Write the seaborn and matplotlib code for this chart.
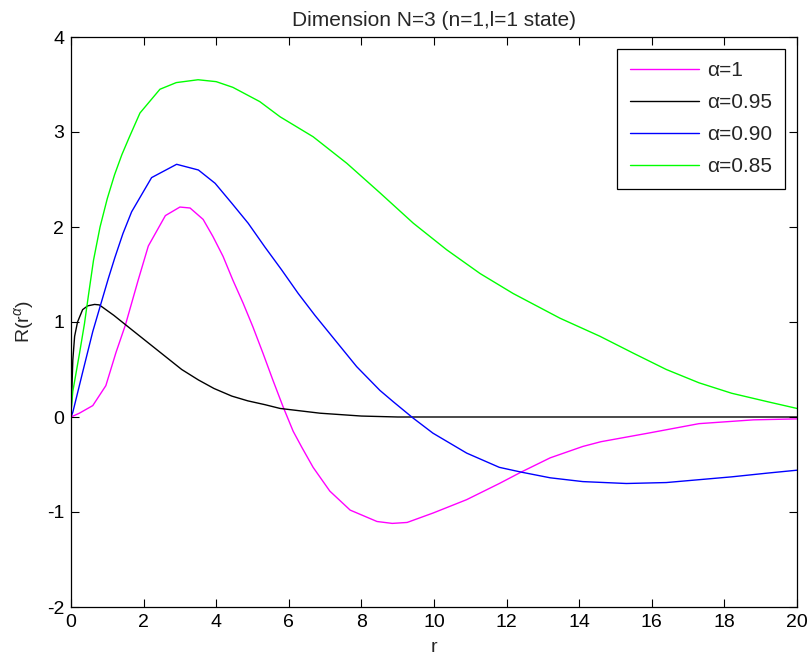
import pandas as pd
import seaborn as sns
import matplotlib.pyplot as plt

# curves (r, R values)
r_a100 = [0, 0.23, 0.6, 0.96, 1.24, 1.5, 1.85, 2.13, 2.6, 3.0, 3.28, 3.64, 3.91, 4.19, 4.46,
          4.74, 5.01, 5.29, 5.56, 5.84, 6.12, 6.36, 6.67, 7.13, 7.69, 8.43, 8.85, 9.26, 9.98,
          10.9, 11.8, 12.4, 13.2, 14.1, 14.6, 15.9, 17.3, 18.8, 20]
R_a100 = [0, 0.04, 0.12, 0.33, 0.68, 0.97, 1.44, 1.80, 2.12, 2.21, 2.20, 2.08, 1.90, 1.69, 1.44,
          1.20, 0.95, 0.67, 0.39, 0.11, -0.15, -0.32, -0.53, -0.78, -0.98, -1.10, -1.12, -1.11, -1.01,
          -0.87, -0.70, -0.58, -0.43, -0.31, -0.26, -0.17, -0.07, -0.03, -0.02]

r_a095 = [0, 0.05, 0.1, 0.18, 0.32, 0.46, 0.65, 0.78, 1.18, 1.67, 2.13, 2.59, 3.05, 3.51, 3.94,
          4.43, 4.87, 5.34, 5.76, 6.86, 8.0, 9.0, 10, 12, 14, 16, 18, 20]
R_a095 = [0, 0.6, 0.85, 1.0, 1.13, 1.17, 1.185, 1.18, 1.07, 0.92, 0.78, 0.64, 0.50, 0.39, 0.30,
          0.22, 0.17, 0.13, 0.09, 0.04, 0.01, 0.0, 0, 0, 0, 0, 0, 0]

r_a090 = [0, 0.05, 0.32, 0.6, 0.83, 1.03, 1.21, 1.43, 1.67, 2.22, 2.91, 3.51, 3.97, 4.43, 4.88,
          5.34, 5.80, 6.26, 6.72, 7.87, 8.51, 8.88, 9.42, 9.97, 10.9, 11.8, 12.4, 13.2, 14.1,
          15.3, 16.4, 17.3, 18.2, 19.2, 20]
R_a090 = [0, 0.05, 0.47, 0.9, 1.2, 1.46, 1.68, 1.93, 2.16, 2.52, 2.66, 2.60, 2.46, 2.25, 2.04,
          1.79, 1.55, 1.30, 1.07, 0.53, 0.28, 0.16, -0.01, -0.17, -0.38, -0.53, -0.58, -0.64, -0.68,
          -0.70, -0.69, -0.66, -0.63, -0.59, -0.56]

r_a085 = [0, 0.05, 0.23, 0.37, 0.48, 0.62, 0.8, 1.0, 1.2, 1.4, 1.6, 1.9, 2.45, 2.9, 3.5, 4.0,
          4.46, 5.2, 5.76, 6.67, 7.6, 8.51, 9.43, 10.35, 11.27, 12.18, 13.47, 14.57, 15.5, 16.4,
          17.3, 18.2, 19.2, 20]
R_a085 = [0.05, 0.27, 0.66, 0.98, 1.28, 1.65, 2.0, 2.3, 2.55, 2.76, 2.94, 3.2, 3.45, 3.52, 3.55, 3.53,
          3.47, 3.32, 3.16, 2.95, 2.67, 2.36, 2.04, 1.76, 1.51, 1.30, 1.04, 0.85, 0.67, 0.50,
          0.36, 0.25, 0.16, 0.09]

labels = ['α=1', 'α=0.95', 'α=0.90', 'α=0.85']
colors = ['#ff00ff', '#000000', '#0000ff', '#00ff00']

# long table for seaborn
frames = []
for lab, rr, RR in zip(labels, [r_a100, r_a095, r_a090, r_a085], [R_a100, R_a095, R_a090, R_a085]):
    frames.append(pd.DataFrame({'r': rr, 'R': RR, 'alpha': lab}))
df = pd.concat(frames, ignore_index=True)

sns.set_style('ticks')
plt.rcParams['font.family'] = ['Liberation Sans', 'DejaVu Sans']
plt.rcParams['axes.unicode_minus'] = False
plt.rcParams['mathtext.fontset'] = 'custom'
plt.rcParams['mathtext.rm'] = 'Liberation Sans'
plt.rcParams['mathtext.it'] = 'Liberation Sans:italic'

fig = plt.figure(figsize=(8.09, 6.7), dpi=100)
ax = fig.add_axes([71 / 809, 1 - 607 / 670, 726 / 809, 570 / 670])

sns.lineplot(data=df, x='r', y='R', hue='alpha', hue_order=labels,
             palette=dict(zip(labels, colors)), sort=False, estimator=None,
             linewidth=1.0, ax=ax)

ax.set_xlim(0, 20)
ax.set_ylim(-2, 4)
ax.set_xticks(range(0, 21, 2))
ax.set_yticks(range(-2, 5))
ax.tick_params(direction='in', length=5.5, width=0.8, top=True, right=True,
               labelsize=14, colors='black', pad=5)
for s in ax.spines.values():
    s.set_visible(True)
    s.set_color('black')
    s.set_linewidth(0.9)

ax.set_title('Dimension N=3 (n=1,l=1 state)', fontsize=15, pad=8)
ax.set_xlabel('r', fontsize=14, labelpad=6)
ax.set_ylabel('R(r$^{\\alpha}$)', fontsize=14, labelpad=8)

sns.move_legend(ax, 'upper right', bbox_to_anchor=(0.983, 0.979), borderaxespad=0,
                title=None, frameon=True, fancybox=False, edgecolor='black', framealpha=1,
                fontsize=15, handlelength=3.3, handletextpad=0.4, labelspacing=0.62,
                borderpad=0.6)
ax.get_legend().get_frame().set_linewidth(0.9)

fig.savefig('out.png', dpi=100)
